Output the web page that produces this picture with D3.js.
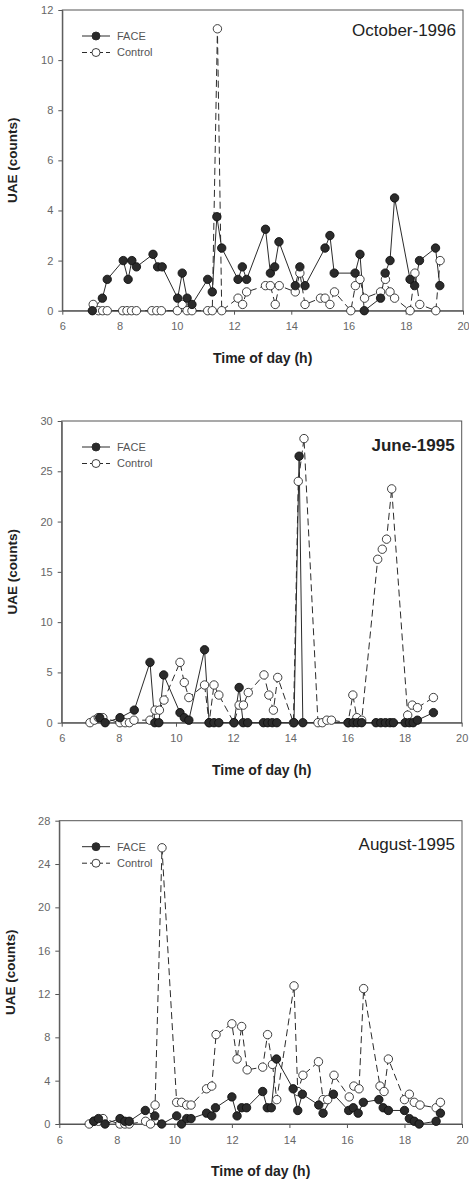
<!DOCTYPE html>
<html>
<head>
<meta charset="utf-8">
<script src="https://cdn.jsdelivr.net/npm/d3@7"></script>
<style>
  body { margin: 0; background: #fff; }
  svg { display: block; font-family: "Liberation Sans", Arial, sans-serif; }
  .axis text { fill: #666; font-size: 11px; }
  .axis path, .axis line { stroke: #555; }
</style>
</head>
<body>
<svg id="chart" width="469" height="1183"></svg>
<script>
// x ticks shared by all panels (time of day, h)
const xTicks = [6, 8, 10, 12, 14, 16, 18, 20];

// October-1996
const octFaceTime = [7.05, 7.40, 7.57, 8.13, 8.30, 8.43, 8.59, 9.17, 9.33, 9.49, 10.03, 10.19, 10.36, 10.53, 11.08, 11.24, 11.40, 11.57, 12.14, 12.29, 12.44, 13.10, 13.27, 13.42, 13.57, 14.14, 14.30, 14.48, 15.18, 15.35, 15.50, 16.23, 16.40, 16.55, 17.12, 17.28, 17.45, 17.61, 18.15, 18.31, 18.48, 19.04, 19.19];
const octFace = [0, 0.5, 1.25, 2.0, 1.25, 2.0, 1.75, 2.25, 1.75, 1.75, 0.5, 1.5, 0.5, 0.25, 1.25, 0.75, 3.75, 2.5, 1.25, 1.75, 1.25, 3.25, 1.5, 1.75, 2.75, 1.0, 1.75, 1.0, 2.5, 3.0, 1.5, 1.5, 2.25, 0, 0.5, 1.5, 2.0, 4.5, 1.25, 1.0, 2.0, 2.5, 1.0];
const octControlTime = [7.08, 7.26, 7.41, 7.57, 8.11, 8.26, 8.42, 8.59, 9.13, 9.30, 9.46, 10.02, 10.19, 10.36, 10.53, 11.08, 11.24, 11.42, 11.57, 12.14, 12.30, 12.44, 13.10, 13.27, 13.44, 13.58, 14.14, 14.30, 14.48, 15.02, 15.18, 15.35, 15.51, 16.08, 16.24, 16.40, 16.56, 17.12, 17.29, 17.45, 17.61, 18.15, 18.32, 18.49, 19.05, 19.20];
const octControl = [0.25, 0, 0, 0, 0, 0, 0, 0, 0, 0, 0, 0, 0.25, 0, 0, 0, 0, 11.25, 0, 0.5, 0.25, 0.75, 1.0, 1.0, 0.25, 1.0, 0.75, 1.5, 0.25, 0.5, 0.5, 0.25, 0.75, 0, 1.0, 1.25, 0.5, 0.75, 1.25, 0.75, 0.5, 0, 1.5, 0.25, 0, 2.0];

// June-1995
const junFaceTime = [7.33, 7.52, 8.04, 8.54, 9.09, 9.26, 9.40, 9.57, 10.14, 10.29, 10.45, 11.00, 11.16, 11.33, 11.50, 12.03, 12.21, 12.35, 12.51, 13.06, 13.21, 13.37, 13.53, 14.13, 14.31, 14.44, 16.03, 16.20, 16.35, 16.50, 17.00, 17.17, 17.33, 17.49, 17.61, 18.02, 18.17, 18.30, 18.45, 19.01];
const junFace = [0.5, 0, 0.5, 1.25, 6.0, 0, 0, 4.75, 1.0, 0.5, 0.25, 7.25, 0, 0, 0, 0, 3.5, 0, 0, 0, 0, 0, 0, 0, 26.5, 0, 0, 0, 0, 0, 0, 0, 0, 0, 0, 0, 0, 0, 0.25, 1.0];
const junControlTime = [6.99, 7.14, 7.28, 7.44, 8.04, 8.22, 8.37, 8.53, 9.09, 9.27, 9.42, 9.58, 10.14, 10.29, 10.45, 11.00, 11.16, 11.33, 11.50, 12.03, 12.21, 12.36, 12.53, 13.08, 13.25, 13.41, 13.56, 14.11, 14.28, 14.48, 14.97, 15.12, 15.28, 15.44, 16.02, 16.19, 16.33, 16.50, 17.06, 17.22, 17.37, 17.55, 18.11, 18.27, 18.45, 19.01];
const junControl = [0, 0.25, 0.5, 0.5, 0, 0, 0, 0.25, 0.25, 1.25, 1.25, 2.25, 6.0, 4.0, 2.5, 3.75, 0, 3.75, 2.75, 0, 1.75, 1.75, 3.0, 4.75, 2.75, 1.25, 4.5, 0, 24.0, 28.25, 0, 0, 0.25, 0.25, 0, 2.75, 0.5, 0.25, 16.25, 17.25, 18.25, 23.25, 0.75, 1.75, 1.5, 2.5];

// August-1995
const augFaceTime = [7.20, 7.36, 7.59, 8.11, 8.28, 8.43, 8.99, 9.32, 9.56, 10.08, 10.25, 10.43, 10.58, 11.12, 11.30, 11.43, 12.00, 12.18, 12.34, 12.51, 13.07, 13.23, 13.37, 13.55, 14.13, 14.29, 14.45, 15.02, 15.17, 15.53, 16.06, 16.22, 16.39, 16.57, 17.11, 17.26, 17.44, 18.00, 18.17, 18.34, 18.51, 19.10, 19.25];
const augFace = [0.25, 0.5, 0, 0.5, 0.25, 0.25, 1.25, 0.75, 0, 0.75, 0, 0.5, 0.5, 1.0, 0.75, 1.5, 2.5, 0.75, 1.5, 1.5, 3.0, 1.5, 1.5, 6.0, 3.25, 1.25, 2.75, 1.75, 1.0, 2.75, 1.25, 1.5, 1.0, 2.0, 2.25, 1.5, 1.25, 1.25, 0.5, 0.25, 0, 0.25, 1.0];
const augControlTime = [7.04, 7.20, 7.36, 7.52, 8.11, 8.28, 8.43, 9.00, 9.17, 9.33, 9.57, 10.08, 10.25, 10.43, 10.58, 11.12, 11.30, 11.45, 12.00, 12.18, 12.34, 12.53, 13.07, 13.24, 13.41, 13.56, 14.16, 14.29, 14.47, 15.01, 15.17, 15.33, 15.55, 16.08, 16.24, 16.42, 16.58, 17.15, 17.29, 17.44, 18.00, 18.17, 18.34, 18.54, 19.10, 19.25];
const augControl = [0, 0.25, 0.25, 0.5, 0, 0, 0, 0.25, 0, 1.75, 25.5, 2.0, 2.0, 1.75, 1.75, 3.25, 3.5, 8.25, 9.25, 6.0, 9.0, 5.0, 5.25, 8.25, 5.5, 2.25, 12.75, 3.0, 4.5, 5.75, 2.25, 2.25, 4.5, 2.5, 3.5, 3.25, 12.5, 3.5, 3.0, 6.0, 2.25, 2.75, 2.0, 1.75, 1.5, 2.0];

const seriesNames = ['FACE', 'Control'];

const INK = '#2b2b2b';
const DASH = '7,4';

class UaePanel {

  constructor(config) {
    this.config = config;
    this.width = config.right - config.left;
    this.height = config.bottom - config.top;
    this.draw();
  }

  draw() {
    this.g = d3.select('#chart').append('g')
        .attr('transform', 'translate(' + this.config.left + ',' + this.config.top + ')');
    this.xScale = d3.scaleLinear().domain([6, 20]).range([0, this.width]);
    this.yScale = d3.scaleLinear().domain([0, this.config.yMax]).range([this.height, 0]);
    this.drawAxis();
    this.drawSeries();
    this.drawLegend();
    this.drawTitle();
  }

  drawAxis() {
    const yTicks = d3.range(0, this.config.yMax + 0.001, this.config.yStep);

    this.g.append('rect')
        .attr('width', this.width)
        .attr('height', this.height)
        .attr('fill', 'none')
        .attr('stroke', '#555');

    this.g.append('g')
        .attr('class', 'axis')
        .attr('transform', 'translate(0,' + this.height + ')')
        .call(d3.axisBottom(this.xScale).tickValues(xTicks).tickSize(4).tickSizeOuter(0).tickPadding(8));

    this.g.append('g')
        .attr('class', 'axis')
        .call(d3.axisLeft(this.yScale).tickValues(yTicks).tickSize(4).tickSizeOuter(0).tickPadding(5));

    this.g.append('text')
        .attr('transform', `translate(${this.config.yLabelX - this.config.left}, ${this.height / 2}) rotate(-90)`)
        .attr('text-anchor', 'middle')
        .attr('font-size', 13.5)
        .attr('font-weight', 'bold')
        .attr('fill', '#222')
        .text('UAE (counts)');

    this.g.append('text')
        .attr('x', this.width / 2)
        .attr('y', this.height + 52)
        .attr('text-anchor', 'middle')
        .attr('font-size', 14)
        .attr('font-weight', 'bold')
        .attr('fill', '#222')
        .text('Time of day (h)');
  }

  drawSeries() {
    const face = this.config.faceTime.map((t, i) => ({x: t, y: this.config.face[i]}));
    const control = this.config.controlTime.map((t, i) => ({x: t, y: this.config.control[i]}));
    const line = d3.line()
        .x((d) => this.xScale(d.x))
        .y((d) => this.yScale(d.y));

    this.g.append('path')
        .datum(face)
        .attr('fill', 'none')
        .attr('stroke', INK)
        .attr('stroke-width', 1)
        .attr('d', line);

    this.g.append('path')
        .datum(control)
        .attr('fill', 'none')
        .attr('stroke', INK)
        .attr('stroke-width', 1)
        .attr('stroke-dasharray', DASH)
        .attr('d', line);

    this.g.selectAll('.control-dot')
        .data(control)
        .enter()
        .append('circle')
        .attr('class', 'control-dot')
        .attr('r', 4.2)
        .attr('fill', '#fff')
        .attr('stroke', INK)
        .attr('stroke-width', 0.9)
        .attr('cx', (d) => this.xScale(d.x))
        .attr('cy', (d) => this.yScale(d.y));

    this.g.selectAll('.face-dot')
        .data(face)
        .enter()
        .append('circle')
        .attr('class', 'face-dot')
        .attr('r', 4.2)
        .attr('fill', INK)
        .attr('stroke', '#111')
        .attr('stroke-width', 0.9)
        .attr('cx', (d) => this.xScale(d.x))
        .attr('cy', (d) => this.yScale(d.y));
  }

  drawLegend() {
    const legend = this.g.append('g')
        .attr('transform', `translate(${82 - this.config.left}, 26)`);

    seriesNames.forEach((name, i) => {
      const row = legend.append('g').attr('transform', `translate(0, ${i * 16.5})`);
      row.append('line')
          .attr('x1', 0).attr('x2', 28)
          .attr('stroke', INK)
          .attr('stroke-dasharray', i === 1 ? '5,3' : null);
      row.append('circle')
          .attr('cx', 14)
          .attr('r', 4)
          .attr('fill', i === 0 ? INK : '#fff')
          .attr('stroke', INK)
          .attr('stroke-width', 0.9);
      row.append('text')
          .attr('x', 35)
          .attr('dy', '0.35em')
          .attr('font-size', 11)
          .attr('fill', '#555')
          .text(name);
    });
  }

  drawTitle() {
    this.g.append('text')
        .attr('x', this.width - 7)
        .attr('y', this.config.titleY)
        .attr('text-anchor', 'end')
        .attr('font-size', 17)
        .attr('font-weight', this.config.titleWeight || 'normal')
        .attr('fill', '#222')
        .text(this.config.title);
  }
}

new UaePanel({
  left: 62.3, right: 463, top: 10, bottom: 310.7, yMax: 12, yStep: 2, yLabelX: 17,
  title: 'October-1996', titleY: 26,
  faceTime: octFaceTime, face: octFace, controlTime: octControlTime, control: octControl
});

new UaePanel({
  left: 61.7, right: 461.7, top: 421, bottom: 722.7, yMax: 30, yStep: 5, yLabelX: 17,
  title: 'June-1995', titleY: 30, titleWeight: 'bold',
  faceTime: junFaceTime, face: junFace, controlTime: junControlTime, control: junControl
});

new UaePanel({
  left: 59.3, right: 462, top: 820.7, bottom: 1124, yMax: 28, yStep: 4, yLabelX: 15,
  title: 'August-1995', titleY: 29,
  faceTime: augFaceTime, face: augFace, controlTime: augControlTime, control: augControl
});
</script>
</body>
</html>
